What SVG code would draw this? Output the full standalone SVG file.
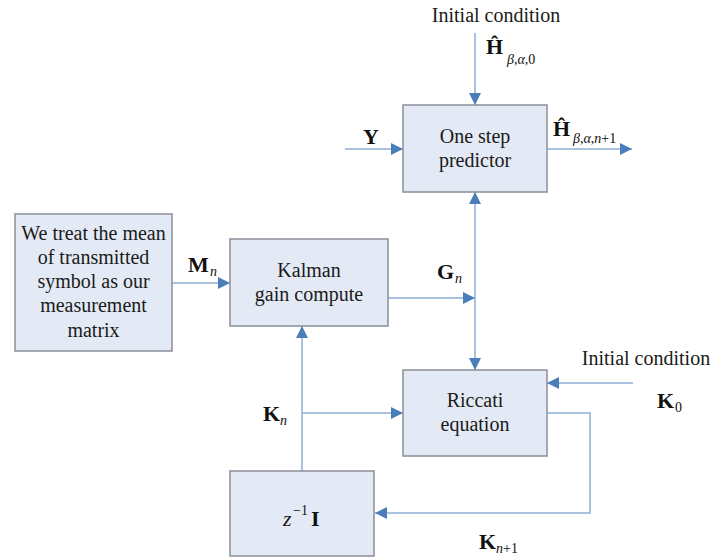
<svg xmlns="http://www.w3.org/2000/svg" width="713" height="558" viewBox="0 0 713 558">
<style>
text{font-family:"Liberation Serif","Times New Roman",Tinos,"DejaVu Serif",serif;fill:#1a1a1a}
.box{fill:#e4eaf5;stroke:#8a8f98;stroke-width:1.5}
.t{font-size:20px;text-anchor:middle}
.b{font-size:22px;font-weight:bold;fill:#111}
.s{font-size:14px;font-style:italic;fill:#111}
.sn{font-size:14px;fill:#111}
.c{fill:none;stroke:#8fadd6;stroke-width:1.5}
</style>
<defs>
<marker id="ah" viewBox="0 0 10 10" refX="10" refY="5" markerWidth="12" markerHeight="12" markerUnits="userSpaceOnUse" orient="auto">
<path d="M0,0 L10,5 L0,10 z" fill="#4a7ebb"/>
</marker>
</defs>
<rect width="713" height="558" fill="#fff"/>
<g id="connectors">
<path class="c" d="M475,33 V105" marker-end="url(#ah)"/>
<path class="c" d="M345,149 H403" marker-end="url(#ah)"/>
<path class="c" d="M547,149 H632" marker-end="url(#ah)"/>
<path class="c" d="M172,283 H230" marker-end="url(#ah)"/>
<path class="c" d="M388,298 H475" marker-end="url(#ah)"/>
<path class="c" d="M475,298 V192" marker-end="url(#ah)"/>
<path class="c" d="M475,298 V370" marker-end="url(#ah)"/>
<path class="c" d="M633,383 H547" marker-end="url(#ah)"/>
<path class="c" d="M547,413 H590 V513 H375" marker-end="url(#ah)"/>
<path class="c" d="M302,471 V326" marker-end="url(#ah)"/>
<path class="c" d="M302,413 H403" marker-end="url(#ah)"/>
</g>
<g id="predictor">
<rect class="box" x="403" y="105" width="144" height="87"/>
<text class="t" x="475" y="143">One step</text>
<text class="t" x="475" y="167">predictor</text>
</g>
<g id="measurement">
<rect class="box" x="15" y="214" width="157" height="137"/>
<text class="t" x="93.5" y="240">We treat the mean</text>
<text class="t" x="93.5" y="264">of transmitted</text>
<text class="t" x="93.5" y="288">symbol as our</text>
<text class="t" x="93.5" y="312">measurement</text>
<text class="t" x="93.5" y="337">matrix</text>
</g>
<g id="kalman">
<rect class="box" x="230" y="239" width="158" height="87"/>
<text class="t" x="309" y="277">Kalman</text>
<text class="t" x="309" y="301">gain compute</text>
</g>
<g id="riccati">
<rect class="box" x="403" y="370" width="144" height="86"/>
<text class="t" x="475" y="407">Riccati</text>
<text class="t" x="475" y="431">equation</text>
</g>
<g id="delay">
<rect class="box" x="230" y="471" width="144" height="85"/>
<text x="283" y="526" style="font-size:22px;font-style:italic">z</text>
<text x="293" y="515" class="sn">−1</text>
<text x="311" y="526" class="b">I</text>
</g>
<g id="labels">
<text class="t" x="496" y="22">Initial condition</text>
<text class="b" x="486" y="54">Ĥ</text>
<text class="s" x="507" y="64">β<tspan style="font-style:normal">,</tspan>α<tspan style="font-style:normal">,0</tspan></text>
<text class="b" x="553" y="136">Ĥ</text>
<text class="s" x="573" y="143">β<tspan style="font-style:normal">,</tspan>α<tspan style="font-style:normal">,</tspan>n<tspan style="font-style:normal">+1</tspan></text>
<text class="b" x="363" y="144">Y</text>
<text class="b" x="188" y="272">M</text>
<text class="s" x="210" y="276">n</text>
<text class="b" x="437" y="279">G</text>
<text class="s" x="455" y="283">n</text>
<text class="b" x="263" y="421">K</text>
<text class="s" x="280" y="425">n</text>
<text class="t" x="646" y="365">Initial condition</text>
<text class="b" x="657" y="408">K</text>
<text class="sn" x="675" y="412">0</text>
<text class="b" x="479" y="549">K</text>
<text class="s" x="496" y="553">n<tspan style="font-style:normal">+1</tspan></text>
</g>
</svg>
